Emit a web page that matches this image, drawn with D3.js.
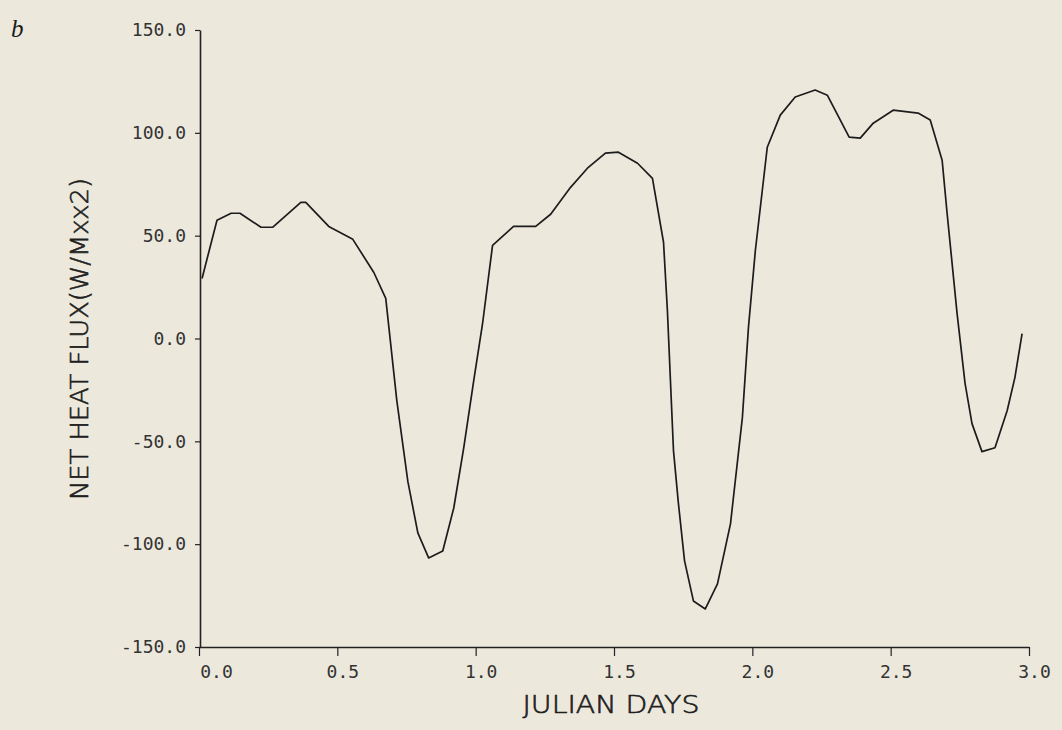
<!DOCTYPE html>
<html>
<head>
<meta charset="utf-8">
<script src="https://cdn.jsdelivr.net/npm/d3@7"></script>
<style>
  html, body { margin: 0; padding: 0; background: #ece9dc; }
  svg { display: block; }
</style>
</head>
<body>
<svg id="chart" width="1062" height="730"></svg>
<script>
// Net heat flux (W/m**2) against Julian days, one sample per vertex of the trace
const days = [
  0.011, 0.065, 0.116, 0.148, 0.224, 0.267, 0.368, 0.386, 0.469, 0.556,
  0.632, 0.675, 0.715, 0.755, 0.791, 0.830, 0.881, 0.921, 0.957, 0.993,
  1.025, 1.061, 1.137, 1.217, 1.271, 1.343, 1.404, 1.469, 1.516, 1.585,
  1.639, 1.679, 1.693, 1.715, 1.733, 1.755, 1.787, 1.830, 1.874, 1.921,
  1.964, 1.986, 2.011, 2.054, 2.101, 2.155, 2.227, 2.271, 2.350, 2.390,
  2.437, 2.509, 2.599, 2.643, 2.686, 2.704, 2.740, 2.769, 2.794, 2.830,
  2.877, 2.921, 2.949, 2.975
];
const netHeatFlux = [
  29.2, 57.5, 60.9, 60.9, 54.1, 54.1, 66.2, 66.2, 54.5, 48.2,
  32.1, 19.5, -30.2, -69.6, -94.5, -106.7, -103.3, -82.3, -53.1, -20.5,
  7.3, 45.3, 54.5, 54.5, 60.4, 73.5, 82.8, 90.1, 90.6, 85.2,
  77.9, 46.8, 13.6, -54.5, -80.4, -108.1, -127.6, -131.5, -119.3, -90.1,
  -38.5, 5.4, 42.9, 93.0, 108.6, 117.4, 120.8, 118.3, 97.9, 97.4,
  104.7, 111.0, 109.6, 106.2, 86.7, 60.9, 12.2, -21.9, -41.4, -55.0,
  -53.1, -35.1, -19.0, 2.4
];

const xTicks = [0, 0.5, 1, 1.5, 2, 2.5, 3];
const xTickLabels = ["0.0", "0.5", "1.0", "1.5", "2.0", "2.5", "3.0"];
const yTicks = [150, 100, 50, 0, -50, -100, -150];
const yTickLabels = ["150.0", "100.0", "50.0", "0.0", "-50.0", "-100.0", "-150.0"];

const panelLetter = "b";
const xTitle = "JULIAN DAYS";
const yTitle = "NET HEAT FLUX(W/Mxx2)";

const ink = "#222";
const tickFont = "'DejaVu Sans Mono', 'Liberation Mono', monospace";
const titleFont = "'DejaVu Sans', 'Liberation Sans', sans-serif";

const svg = d3.select("#chart");

const x = d3.scaleLinear().domain([0, 3]).range([199, 1029]);
const y = d3.scaleLinear().domain([-150, 150]).range([647, 30]);
const axisX = 200;
const axisY = 647;

// Left axis
const gy = svg.append("g")
  .attr("transform", `translate(${axisX},0)`)
  .call(d3.axisLeft(y)
    .tickValues(yTicks)
    .tickFormat((d, i) => yTickLabels[i])
    .tickSize(5)
    .tickSizeOuter(0)
    .tickPadding(9));
gy.select(".domain").attr("stroke", ink).attr("stroke-width", 1.6);
gy.selectAll(".tick line").attr("stroke", ink).attr("stroke-width", 1.2);
gy.selectAll(".tick text")
  .attr("fill", "#333")
  .style("font-family", tickFont)
  .style("font-size", "18px");

// Bottom axis
const gx = svg.append("g")
  .attr("transform", `translate(0,${axisY})`)
  .call(d3.axisBottom(x)
    .tickValues(xTicks)
    .tickFormat((d, i) => xTickLabels[i])
    .tickSize(9)
    .tickSizeOuter(0)
    .tickPadding(9));
gx.select(".domain").attr("stroke", ink).attr("stroke-width", 1.4);
gx.selectAll(".tick line").attr("stroke", ink).attr("stroke-width", 1.2);
gx.selectAll(".tick text")
  .attr("fill", "#333")
  .attr("dx", (d, i) => i === 0 ? 17 : 5)
  .style("font-family", tickFont)
  .style("font-size", "18px");

// Flux trace
const line = d3.line()
  .x((d, i) => x(days[i]))
  .y(d => y(d));

svg.append("path")
  .datum(netHeatFlux)
  .attr("d", line)
  .attr("fill", "none")
  .attr("stroke", "#1c1c1c")
  .attr("stroke-width", 1.7)
  .attr("stroke-linejoin", "round");

// Axis titles: thin pen-plotter style lettering
function titleStyle(sel) {
  sel.attr("fill", "#1e1e1e")
    .attr("stroke", "#1e1e1e")
    .attr("stroke-width", 0.6)
    .style("font-family", titleFont)
    .style("font-weight", 200)
    .style("font-size", "24px");
}

svg.append("text")
  .attr("x", 611)
  .attr("y", 713)
  .attr("text-anchor", "middle")
  .attr("textLength", 177)
  .attr("lengthAdjust", "spacingAndGlyphs")
  .call(titleStyle)
  .text(xTitle);

svg.append("text")
  .attr("transform", "translate(88,339) rotate(-90)")
  .attr("text-anchor", "middle")
  .attr("textLength", 322)
  .attr("lengthAdjust", "spacingAndGlyphs")
  .call(titleStyle)
  .text(yTitle);

// Panel letter
svg.append("text")
  .attr("x", 11)
  .attr("y", 37)
  .attr("fill", "#1c1c1c")
  .style("font-family", "'Liberation Serif', 'DejaVu Serif', serif")
  .style("font-style", "italic")
  .style("font-size", "25px")
  .text(panelLetter);
</script>
</body>
</html>
